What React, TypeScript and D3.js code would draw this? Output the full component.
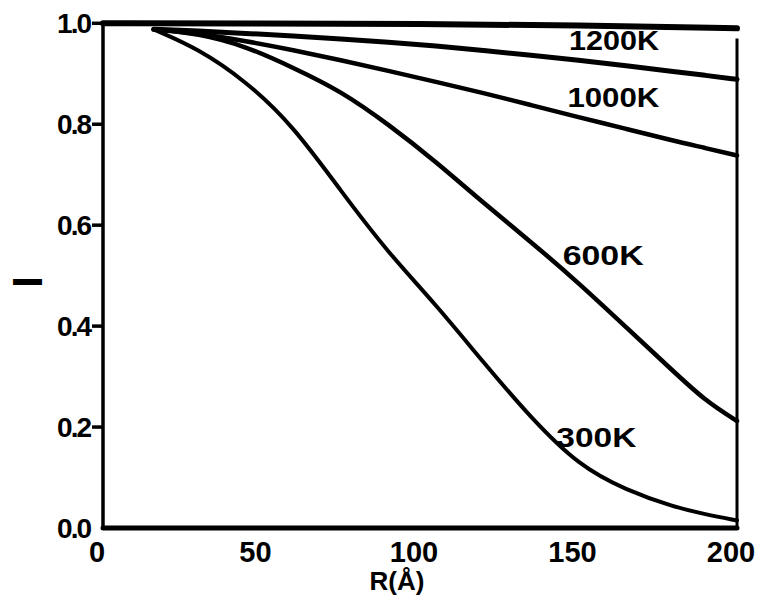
import * as d3 from "d3";

// radius grid (Å) shared by the four temperature curves
const radii = [16, 30, 45, 60, 75, 90, 105, 120, 135, 150, 165, 180, 190, 200];

const i1200K = [0.988, 0.985, 0.98, 0.975, 0.969, 0.963, 0.955, 0.946, 0.937, 0.927, 0.916, 0.904, 0.897, 0.889];
const i1000K = [0.988, 0.98, 0.965, 0.947, 0.927, 0.906, 0.884, 0.862, 0.838, 0.814, 0.791, 0.767, 0.753, 0.738];
const i600K = [0.988, 0.98, 0.955, 0.912, 0.866, 0.8, 0.726, 0.644, 0.567, 0.486, 0.398, 0.31, 0.252, 0.212];
const i300K = [0.988, 0.95, 0.886, 0.797, 0.668, 0.545, 0.443, 0.328, 0.218, 0.124, 0.075, 0.042, 0.027, 0.015];

// thick top line
const topRadii = [0, 50, 100, 150, 200];
const topValues = [1.0, 1.0, 0.999, 0.996, 0.99];

const curveLabels = ["1200K", "1000K", "600K", "300K"];

const xTicks = [0, 50, 100, 150, 200];
const xTickLabels = ["0", "50", "100", "150", "200"];
const yTicks = [0, 0.2, 0.4, 0.6, 0.8, 1.0];
const yTickLabels = ["0.0", "0.2", "0.4", "0.6", "0.8", "1.0"];

const W = 767;
const H = 598;
const font = "'Liberation Sans', Arial, sans-serif";

export default function App() {
  const x = d3.scaleLinear().domain([0, 200]).range([103, 737]);
  const y = d3.scaleLinear().domain([0, 1]).range([528, 23.3]);

  const line = d3
    .line<[number, number]>()
    .x((d) => x(d[0]))
    .y((d) => y(d[1]))
    .curve(d3.curveBasis);

  const series = [
    { values: i1200K, width: 5, labelAt: [147, 0.965], len: 90 },
    { values: i1000K, width: 4.5, labelAt: [146.5, 0.852], len: 92 },
    { values: i600K, width: 4.5, labelAt: [145, 0.54], len: 81 },
    { values: i300K, width: 4, labelAt: [143, 0.18], len: 80 },
  ];

  const topPath = line(topRadii.map((r, i) => [r, topValues[i]] as [number, number])) ?? "";

  return (
    <svg
      width={W}
      height={H}
      viewBox={`0 0 ${W} ${H}`}
      style={{ position: "absolute", left: 0, top: 0, background: "#fff" }}
      fontFamily={font}
      fontWeight="bold"
    >
      {/* frame */}
      <line x1={x(0)} y1={y(1) - 1} x2={x(0)} y2={y(0)} stroke="#000" strokeWidth={3.5} />
      <line x1={x(0)} y1={y(0)} x2={x(200)} y2={y(0)} stroke="#000" strokeWidth={5} strokeLinecap="round" />
      <line x1={x(200)} y1={y(0.97)} x2={x(200)} y2={y(0)} stroke="#000" strokeWidth={3} />

      {/* y ticks */}
      {yTicks.map((t, i) => (
        <g key={t}>
          {t > 0 && <line x1={x(0) - 11} y1={y(t)} x2={x(0)} y2={y(t)} stroke="#000" strokeWidth={3.5} />}
          <text
            x={x(0) - 13}
            y={y(t)}
            textAnchor="end"
            dominantBaseline="central"
            fontSize={28}
            letterSpacing={-2}
            fill="#000"
          >
            {yTickLabels[i]}
          </text>
        </g>
      ))}

      {/* x tick labels */}
      {xTicks.map((t, i) => (
        <text key={t} x={x(t)} dx={-6} y={562} textAnchor="middle" fontSize={29} fill="#000">
          {xTickLabels[i]}
        </text>
      ))}

      <text x={397} y={590} textAnchor="middle" fontSize={26} fill="#000">
        R(Å)
      </text>
      <text
        transform="translate(42,282) rotate(-90)"
        textAnchor="middle"
        fontSize={42}
        fill="#000"
      >
        I
      </text>

      {/* curves */}
      <path d={topPath} fill="none" stroke="#000" strokeWidth={6} strokeLinecap="round" />
      {series.map((s, k) => {
        const d = line(radii.map((r, i) => [r, s.values[i]] as [number, number])) ?? "";
        return (
          <g key={curveLabels[k]}>
            <path d={d} fill="none" stroke="#000" strokeWidth={s.width} strokeLinecap="round" />
            <text
              x={x(s.labelAt[0])}
              y={y(s.labelAt[1])}
              dominantBaseline="central"
              fontSize={28}
              textLength={s.len}
              lengthAdjust="spacingAndGlyphs"
              fill="#000"
            >
              {curveLabels[k]}
            </text>
          </g>
        );
      })}
    </svg>
  );
}
